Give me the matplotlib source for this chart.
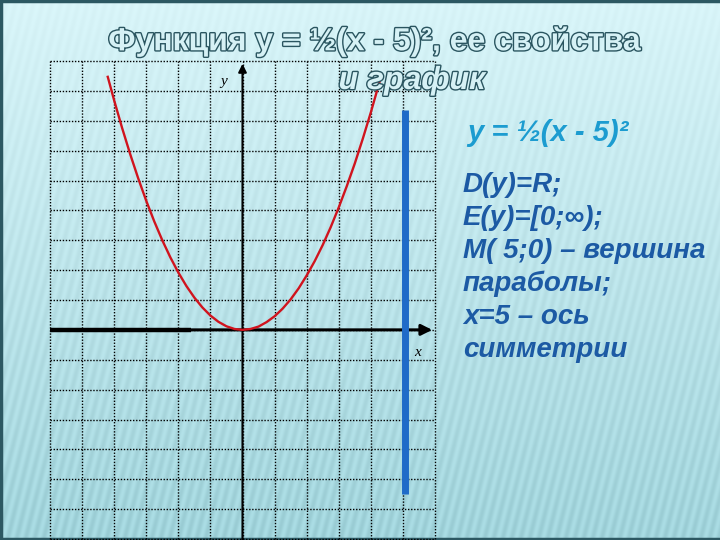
import numpy as np
import matplotlib
matplotlib.use("Agg")
import matplotlib.pyplot as plt
import matplotlib.patheffects as pe

# parabola (cell units, vertex on the drawn axes)
curve_x = [-4.2, -4.0, -3.75, -3.5, -3.25, -3.0, -2.75, -2.5, -2.25, -2.0,
           -1.75, -1.5, -1.25, -1.0, -0.75, -0.5, -0.25, 0.0,
           0.25, 0.5, 0.75, 1.0, 1.25, 1.5, 1.75, 2.0, 2.25, 2.5,
           2.75, 3.0, 3.25, 3.5, 3.75, 4.0, 4.25, 4.3]
curve_y = [8.47, 7.68, 6.75, 5.88, 5.07, 4.32, 3.63, 3.0, 2.43, 1.92,
           1.47, 1.08, 0.75, 0.48, 0.27, 0.12, 0.03, 0.0,
           0.03, 0.11, 0.26, 0.455, 0.71, 1.02, 1.39, 1.82, 2.30, 2.84,
           3.44, 4.10, 4.81, 5.57, 6.40, 7.28, 8.22, 8.41]

# blue symmetry bar
axis_bar_x = 5.08
axis_bar_y = [-5.5, 7.35]

title_1 = "Функция y = ½(x - 5)², ее свойства"
title_2 = "и график"
formula = "y = ½(x - 5)²"
props = ["D(y)=R;", "E(y)=[0;∞);", "M( 5;0) – вершина", "параболы;",
         "x=5 – ось", "симметрии"]

fig = plt.figure(figsize=(7.2, 5.4), dpi=100)

# background gradient with faint diagonal streaks
bg = fig.add_axes([0, 0, 1, 1])
h, w = 540, 720
yy, xx = np.mgrid[0:h, 0:w]
t = yy / h
top = np.array([0.85, 0.96, 0.975])
bot = np.array([0.63, 0.83, 0.86])
img = top[None, None, :] * (1 - t[..., None]) + bot[None, None, :] * t[..., None]
streak = 0.025 * np.sin(2 * np.pi * (xx + 0.25 * yy) / 9.0)
img = np.clip(img + streak[..., None] * (t[..., None] + 0.3), 0, 1)
bg.imshow(img, aspect="auto", extent=[0, w, h, 0])
bg.set_xlim(0, w)
bg.set_ylim(h, 0)
bg.axis("off")
edge = "#2c5862"
bg.plot([1, 1], [0, h], color=edge, lw=2.5)
bg.plot([0, w], [1, 1], color=edge, lw=2.5)
bg.plot([0, w], [h - 1, h - 1], color=edge, lw=2.5)

# grid area
ax = fig.add_axes([50 / 720, 1 / 540, 385 / 720, 478 / 540])
ax.set_xlim(-6, 6)
ax.set_ylim(-7, 9)
ax.patch.set_alpha(0)
ax.axis("off")
for gx in range(-6, 7):
    ax.plot([gx, gx], [-7, 9], color="black", lw=1.0, ls=(0, (1, 1.2)), clip_on=False)
for gy in range(-7, 10):
    ax.plot([-6, 6], [gy, gy], color="black", lw=1.0, ls=(0, (1, 1.2)), clip_on=False)

# axes with arrows
ax.annotate("", xy=(0, 9), xytext=(0, -7.1),
            arrowprops=dict(arrowstyle="-|>", lw=1.5, color="black", mutation_scale=12))
ax.annotate("", xy=(6, 0), xytext=(-6, 0),
            arrowprops=dict(arrowstyle="-|>", lw=2.2, color="black", mutation_scale=16))
ax.plot([-6, -1.6], [0, 0], color="black", lw=3.2, solid_capstyle="butt")
ax.text(-0.6, 8.3, "y", fontsize=11, style="italic", family="Liberation Serif",
        ha="center", va="center")
ax.text(5.45, -0.75, "x", fontsize=11, style="italic", family="Liberation Serif",
        ha="center", va="center")

ax.plot(curve_x, curve_y, color="#d0141e", lw=1.7, zorder=5, clip_on=False)
ax.plot([axis_bar_x, axis_bar_x], axis_bar_y, color="#1f6bc8", lw=5,
        solid_capstyle="butt", zorder=6)

# title, hollow outlined letters
outline = [pe.withStroke(linewidth=2.0, foreground="#2a5560")]
fig.text(375 / 720, 1 - 42 / 540, title_1, fontsize=23, weight="bold",
         family="Liberation Sans", color="#d6f1f5", ha="center", va="center",
         path_effects=outline)
fig.text(412 / 720, 1 - 81 / 540, title_2, fontsize=23, weight="bold", style="italic",
         family="Liberation Sans", color="#d6f1f5", ha="center", va="center",
         path_effects=outline)

# properties on the right
fig.text(467 / 720, 1 - 133 / 540, formula, fontsize=21, weight="bold", style="italic",
         family="Liberation Sans", color="#1c9cd0", ha="left", va="center")
for i, s in enumerate(props):
    fig.text(463 / 720, 1 - (185 + i * 33) / 540, s, fontsize=20, weight="bold",
             style="italic", family="Liberation Sans", color="#1c5aa4",
             ha="left", va="center")

fig.savefig("out.png", dpi=100)
